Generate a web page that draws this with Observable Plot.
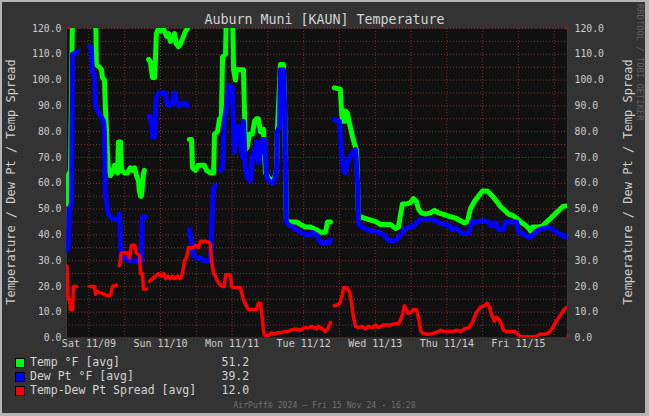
<!DOCTYPE html>
<html><head><meta charset="utf-8">
<script src="https://cdn.jsdelivr.net/npm/d3@7"></script>
<script src="https://cdn.jsdelivr.net/npm/@observablehq/plot@0.6"></script>
<style>
html,body{margin:0;padding:0;background:#333;}
#wrap{position:relative;width:649px;height:416px;background:#333;overflow:hidden;font-family:"DejaVu Sans Mono",monospace;color:#d0d0d0;}
#chart{position:absolute;left:0;top:0;}
.t{position:absolute;white-space:pre;line-height:1;}
#border{position:absolute;left:0;top:0;width:649px;height:416px;box-sizing:border-box;border-style:solid;border-color:#b4b4b4;border-width:2px 4px 3px 2px;pointer-events:none;}
.sq{position:absolute;width:8px;height:8px;border:1px solid #000;}
</style></head><body>
<div id="wrap">
  <div id="chart"></div>
  <div id="border"></div>
</div>
<script>
// ---- data (hours since Sat 2024-11-09 00:00, value) ----
const temp = [
[-7.4,52],[-6.9,63],[-6.2,65],[-5.5,128],[-4.2,128],[-2,null],
[0.5,128],[2.2,128],[2.5,106],[3.5,105],[4.2,104],[4.5,101],[5.2,100],[5.5,90],[5.9,80],[6.2,72],[6.5,66],[7.2,63],[7.9,64],[8.6,67],[9.2,65],[9.6,64],[9.9,76],[10.6,76],[10.9,65],[11.9,64],[12.9,64],[13.9,66],[14.6,65],[15.3,66],[15.9,63],[16.6,61],[16.9,57],[17.3,55],[17.6,55],[18.3,64],[18.6,65],[19.3,null],
[20.0,108],[20.6,107],[21.3,101],[22.0,101],[22.3,108],[22.6,118],[23.3,120],[24.0,119],[25.0,120],[26.0,117],[26.7,118],[27.3,115],[28.0,116],[28.7,118],[29.3,114],[30.0,113],[30.7,114],[31.7,117],[32.4,119],[33.0,120],[33.4,null],
[33.7,77],[34.4,77],[34.7,66],[35.7,65],[36.7,67],[37.7,67],[38.7,67],[39.4,65],[40.7,64],[41.8,64],[42.1,79],[43.1,80],[43.8,85],[44.4,85],[44.8,109],[45.8,110],[46.1,128],[48.1,128],[48.5,104],[49.1,100],[49.5,104],[51.8,104],[52.1,90],[52.5,73],[53.1,74],[53.8,79],[54.8,79],[55.5,84],[56.2,85],[56.8,85],[57.5,80],[58.5,81],[59.2,64],[60.2,62],[61.5,61],[62.2,62],[62.9,65],[63.2,81],[64.2,106],[65.2,106],[65.6,90],[66.2,46],[66.9,45],[68.2,45],[69.6,45],[70.9,44],[72.6,43],[74.3,43],[76.3,42],[77.6,41],[79.3,41],[80.0,45],[81.0,45],[81.5,null],
[82.3,97],[84.3,96.5],[84.7,88],[85.0,84],[85.7,84],[86.0,88],[86.7,87],[87.4,83],[88.0,80],[88.4,78],[89.1,75],[89.7,73],[90.1,60],[90.4,46],[91.1,47],[92.4,46.5],[93.7,46],[95.1,45.5],[96.4,45],[97.8,44],[99.4,44],[101.1,44],[102.8,42.5],[103.8,43],[104.5,48],[105.1,52],[106.5,52],[107.8,52.5],[108.8,54],[109.8,53],[110.5,50],[111.5,48.5],[112.8,48],[114.5,48.5],[115.9,49.5],[117.2,48.5],[118.6,48],[119.9,47.5],[121.3,47],[122.9,46.5],[124.6,45.5],[125.9,44.7],[126.9,45],[127.9,50],[129.3,53],[130.6,55],[132.0,57],[133.6,57],[135.3,55],[136.7,53],[138.0,51],[139.4,49.5],[140.7,48],[142.1,47.5],[143.4,46.5],[144.7,45],[146.1,44],[147.5,42.5],[148.1,41.5],[148.8,43],[150.5,43],[152.2,43.5],[153.5,45],[154.9,46.5],[156.2,48],[157.6,49.5],[158.9,51],[159.9,51.2]
];
const dew = [
[-7.4,34],[-6.9,36],[-6.5,50],[-5.9,52],[-5.5,110],[-3.9,111],[-2,null],
[0.2,113],[0.8,112],[1.2,103],[1.8,102],[2.2,90],[2.9,88],[3.9,86],[4.5,85],[4.9,84],[5.2,80],[5.5,57],[5.9,52],[6.5,48],[7.2,47],[8.2,46],[9.2,46],[9.7,null],
[10.2,48],[10.6,36],[10.9,31],[12.2,31],[13.9,30],[15.6,30],[17.6,30],[17.9,47],[18.9,47],[19.5,null],
[20.3,86],[21.0,83],[21.3,78],[22.0,78],[22.3,86],[22.6,93],[23.3,95],[24.6,95],[25.7,95],[26.0,91],[26.7,90],[28.0,91],[28.7,95],[29.3,92],[30.0,90],[31.4,91],[32.4,91],[33.0,90],[33.3,null],
[33.7,42],[34.4,36],[35.0,32],[36.0,31],[37.4,31],[38.7,30],[40.7,30],[41.1,41],[41.8,58],[42.4,59],[43.0,null],
[44.1,65],[44.8,66],[45.4,84],[46.1,90],[46.8,98],[48.1,97],[48.8,72],[49.5,80],[50.1,82],[50.8,80],[51.5,70],[51.8,84],[52.5,66],[53.1,62],[54.2,61],[54.8,70],[55.5,72],[56.2,76],[56.8,68],[57.5,72],[58.2,77],[58.9,77],[59.5,63],[60.2,61],[61.5,60],[62.2,61],[62.9,65],[63.2,80],[63.9,82],[64.2,104],[65.2,104],[65.6,90],[66.2,45],[66.9,44],[68.2,43],[69.6,42],[70.9,41],[72.6,40],[74.3,40],[74.9,41],[76.3,40],[77.6,37],[79.3,37],[80.6,37],[81.0,38],[81.5,null],
[82.3,84.7],[84.0,84],[84.7,72],[85.4,65],[86.0,64],[86.7,68],[87.4,70],[88.4,72],[89.4,73],[90.1,60],[90.4,44],[91.7,43],[93.1,42],[95.1,41.5],[97.1,41],[98.8,40],[100.4,38],[101.8,37.5],[103.1,38],[104.5,40],[105.8,42],[107.1,43],[108.5,43],[109.8,44.5],[111.2,46],[112.8,46],[114.5,46],[116.2,45.5],[117.9,44.5],[119.6,44],[120.9,43.5],[121.9,42],[123.3,42.5],[124.6,41],[125.6,40.5],[127.3,40.5],[128.3,45],[130.0,45],[132.0,45.5],[134.0,45],[134.6,43.5],[135.7,43.5],[136.3,44.7],[137.4,42],[139.0,42],[139.7,45],[141.4,45],[143.4,45],[144.1,41],[145.4,40.5],[146.8,39.5],[148.1,39],[149.2,40.5],[150.8,42],[152.5,42.5],[154.2,43],[155.5,42],[156.9,41],[158.3,40],[159.3,39.5],[160.3,39.2]
];
const spread = [
[-7.4,28],[-7.0,15],[-6.5,15],[-6.2,11],[-5.5,11],[-5.2,20],[-4.2,20],[-2,null],
[0.2,20],[1.8,20],[2.2,17],[2.9,18],[3.9,17.5],[4.9,17],[5.9,16.5],[7.2,16.5],[7.9,20],[9.2,20.5],[9.7,null],
[10.2,28],[10.9,33],[12.9,33],[13.6,31],[14.3,36],[15.3,36],[15.9,33],[16.9,32],[17.3,25],[17.9,25],[18.3,19],[19.3,19],[19.6,null],
[20.3,22],[21.3,23],[22.3,24],[23.3,25],[24.3,24],[25.0,25],[25.7,23],[26.3,24],[27.3,23],[28.0,24],[28.7,23],[29.7,24],[30.7,23],[31.4,25],[32.0,30],[32.7,31],[33.4,35],[34.0,35],[35.0,35],[35.7,36],[36.7,35],[37.4,37.5],[39.1,37.5],[40.4,37],[40.7,36],[41.1,30],[41.8,25],[42.4,24],[43.1,22],[44.1,20.5],[44.8,20],[45.4,20],[45.8,24.5],[47.1,24.5],[47.5,24],[47.8,20],[48.5,19.6],[50.8,19.6],[51.1,18],[51.8,15],[52.5,13],[53.5,11],[54.8,11],[56.2,11],[56.8,13.5],[57.5,13.5],[57.9,10],[58.5,3],[58.9,1],[60.2,1],[61.2,2],[62.2,1.5],[63.2,2],[64.2,2],[65.6,2.5],[66.6,2.5],[67.6,3],[69.3,3.5],[70.9,3],[72.3,4],[73.6,4],[74.9,4.5],[76.3,3.5],[77.0,4.5],[78.3,3.5],[79.3,2.5],[80.3,4],[81.0,6],[81.5,null],
[82.3,12.5],[83.7,13],[84.3,14],[85.0,17],[85.4,19.5],[86.4,19.5],[87.4,18],[88.0,14],[88.7,8],[89.4,4.5],[90.4,4],[91.7,4.5],[92.7,3.5],[93.7,4.5],[95.1,4],[96.1,5],[97.1,4],[98.4,5],[99.8,5],[101.1,5],[102.4,5.5],[103.8,5.5],[104.5,7],[105.1,9],[105.8,12.5],[106.5,11],[107.1,9.5],[108.1,10],[108.8,11],[109.8,11],[110.5,8],[111.2,3],[111.8,2],[113.2,1.5],[114.5,1.5],[115.9,2],[116.9,2.5],[117.9,3],[119.3,2.5],[120.6,2.5],[121.9,2.5],[123.3,3],[124.6,2.5],[125.9,3.5],[127.3,4],[128.6,6],[130.0,10],[131.3,12],[132.6,12.5],[133.6,13.5],[134.3,12],[135.0,9],[136.0,6.5],[136.7,8],[137.4,7.5],[138.4,5],[139.0,3],[140.1,2.5],[141.4,2.5],[142.7,2.5],[143.7,1.5],[144.7,0.5],[146.4,0.5],[148.1,0.5],[149.8,0.5],[151.2,1.5],[152.9,1.5],[154.2,2],[155.2,3.5],[156.5,6],[157.9,8.5],[159.3,11],[160.3,12]
];
const dayLabels = ["Sat 11/09","Sun 11/10","Mon 11/11","Tue 11/12","Wed 11/13","Thu 11/14","Fri 11/15"];
const dayDates = ["2024-11-09T00:00","2024-11-10T00:00","2024-11-11T00:00","2024-11-12T00:00","2024-11-13T00:00","2024-11-14T00:00","2024-11-15T00:00"];
const yTicks = [0,10,20,30,40,50,60,70,80,90,100,110,120];
const legendLabels = ["Temp °F [avg]","Dew Pt °F [avg]","Temp-Dew Pt Spread [avg]"];
const legendValues = ["51.2","39.2","12.0"];
const seriesColors = ["#00ff00","#0000ff","#ff0000"];
const titleText = "Auburn Muni [KAUN] Temperature";
const yLabel = "Temperature / Dew Pt / Temp Spread";
const footerText = "AirPuff\u00ae 2024 \u2014 Fri 15 Nov 24 - 16:28";
const sideText = "RRDTOOL / TOBI OETIKER";

// ---- build ----
const base = new Date(2024, 10, 9, 0, 0);
const start = new Date(2024, 10, 8, 16, 28);
const end = new Date(2024, 10, 15, 16, 28);
const toRows = arr => arr.map(([h, v]) => ({t: new Date(base.getTime() + h * 3600e3), v}));
const tempData = toRows(temp), dewData = toRows(dew), spreadData = toRows(spread);
const days = dayDates.map(s => new Date(s));
const xGrid = d3.timeHour.every(12).range(start, end);
const yGrid = d3.range(0, 121, 5);
const gridColor = "#7a3030";
const arrowColor = "#8c1f1f";

const lineOpts = (c, w) => ({x: "t", y: "v", stroke: c, strokeWidth: w, clip: true, strokeLinejoin: "round", strokeLinecap: "round"});

const chart = Plot.plot({
  width: 649, height: 416,
  marginLeft: 66, marginRight: 82, marginTop: 28, marginBottom: 78.5,
  x: {type: "time", domain: [start, end], axis: null},
  y: {domain: [0, 120], axis: null},
  style: {background: "transparent", fontFamily: "'DejaVu Sans Mono', monospace", fontSize: "9.8px", color: "#cdcdcd", overflow: "visible"},
  marks: [
    Plot.frame({fill: "#111111", stroke: "none"}),
    Plot.ruleY(yGrid, {y: d => d, stroke: gridColor, strokeDasharray: "1,2"}),
    Plot.ruleX(xGrid, {x: d => d, stroke: gridColor, strokeDasharray: "1,2"}),
    Plot.ruleY([0], {stroke: "#3a3a3a"}),
    Plot.ruleX([start, end], {stroke: "#3a3a3a"}),
    Plot.line(tempData, lineOpts(seriesColors[0], 5)),
    Plot.line(dewData, lineOpts(seriesColors[1], 5)),
    Plot.line(spreadData, lineOpts(seriesColors[2], 3.5)),
    Plot.text(yTicks, {y: d => d, text: d => d.toFixed(1), frameAnchor: "left", textAnchor: "end", dx: -5}),
    Plot.text(yTicks, {y: d => d, text: d => d.toFixed(1), frameAnchor: "right", textAnchor: "start", dx: 7}),
    Plot.text(days, {x: d => d, text: (d, i) => dayLabels[i], frameAnchor: "bottom", dy: 9, fontSize: "10px"}),
    Plot.text([0], {text: () => "\u25B2", frameAnchor: "top-left", dy: -4, fill: arrowColor, fontSize: "7px"}),
    Plot.text([0], {text: () => "\u25B2", frameAnchor: "top-right", dy: -4, fill: arrowColor, fontSize: "7px"}),
    Plot.text([0], {text: () => "\u25B6", frameAnchor: "bottom-right", dx: 3, fill: arrowColor, fontSize: "7px"})
  ]
});
document.getElementById("chart").appendChild(chart);

const wrap = document.getElementById("wrap");
const border = document.getElementById("border");
function addText(txt, css) {
  const d = document.createElement("div");
  d.className = "t";
  d.textContent = txt;
  Object.assign(d.style, css);
  wrap.insertBefore(d, border);
  return d;
}
addText(titleText, {left: "324.5px", top: "19.5px", fontSize: "13.3px", color: "#d4d4d4", transform: "translate(-50%,-50%)"});
addText(yLabel, {left: "10.5px", top: "182px", fontSize: "12px", color: "#d0d0d0", transform: "translate(-50%,-50%) rotate(-90deg)"});
addText(yLabel, {left: "628px", top: "182px", fontSize: "12px", color: "#d0d0d0", transform: "translate(-50%,-50%) rotate(-90deg)"});
addText(sideText, {left: "640px", top: "4px", fontSize: "8.8px", color: "#5e5e5e", transform: "translateX(-50%)", writingMode: "vertical-rl"});
legendLabels.forEach((lab, i) => {
  const cy = 363.3 + i * 14;
  const sq = document.createElement("div");
  sq.className = "sq";
  Object.assign(sq.style, {left: "15px", top: (cy - 5) + "px", background: seriesColors[i]});
  wrap.insertBefore(sq, border);
  addText(lab, {left: "30px", top: cy + "px", fontSize: "11.5px", color: "#d4d4d4", transform: "translateY(-50%)"});
  addText(legendValues[i], {left: "221.5px", top: cy + "px", fontSize: "11.5px", color: "#d4d4d4", transform: "translateY(-50%)"});
});
addText(footerText, {left: "324.5px", top: "405px", fontSize: "8.2px", color: "#707070", transform: "translate(-50%,-50%)"});
</script>
</body></html>
